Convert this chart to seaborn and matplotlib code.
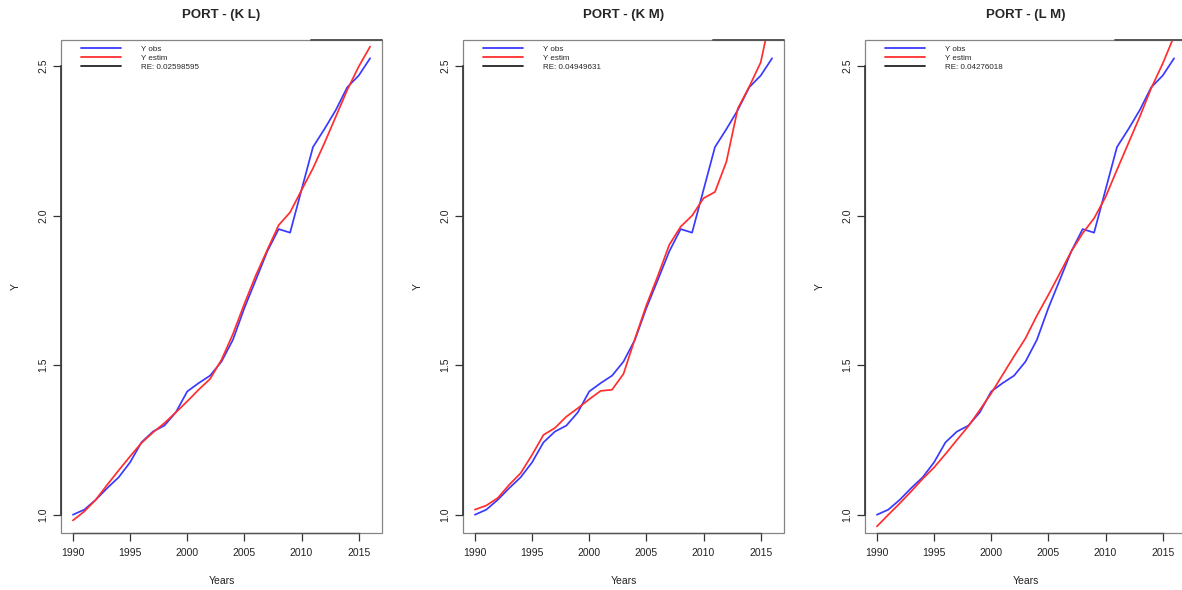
import matplotlib
matplotlib.use("Agg")
import matplotlib.pyplot as plt
import seaborn as sns
import pandas as pd
from matplotlib.lines import Line2D
from matplotlib.patches import Rectangle

# ---------------- data ----------------
years = list(range(1990, 2017))
y_obs = [1.000, 1.017, 1.050, 1.089, 1.125, 1.175, 1.242, 1.278, 1.298, 1.342,
         1.412, 1.440, 1.465, 1.512, 1.585, 1.691, 1.785, 1.880, 1.955, 1.943,
         2.086, 2.229, 2.289, 2.353, 2.429, 2.468, 2.526]
y_est_kl = [0.981, 1.011, 1.050, 1.100, 1.148, 1.195, 1.240, 1.275, 1.306, 1.342,
            1.379, 1.418, 1.454, 1.518, 1.604, 1.705, 1.800, 1.885, 1.968, 2.011,
            2.085, 2.158, 2.242, 2.331, 2.420, 2.498, 2.565]
y_est_km = [1.017, 1.031, 1.056, 1.100, 1.139, 1.200, 1.267, 1.290, 1.328, 1.356,
            1.386, 1.414, 1.418, 1.471, 1.588, 1.700, 1.798, 1.902, 1.963, 2.000,
            2.058, 2.079, 2.180, 2.358, 2.431, 2.512, 2.690]
y_est_lm = [0.961, 1.000, 1.038, 1.078, 1.120, 1.158, 1.203, 1.250, 1.296, 1.350,
            1.406, 1.468, 1.530, 1.590, 1.666, 1.735, 1.807, 1.880, 1.941, 1.991,
            2.062, 2.153, 2.242, 2.331, 2.426, 2.508, 2.600]
titles = ["PORT - (K L)", "PORT - (K M)", "PORT - (L M)"]
re_values = ["0.02598595", "0.04949631", "0.04276018"]
estimates = [y_est_kl, y_est_km, y_est_lm]
x_ticks = [1990, 1995, 2000, 2005, 2010, 2015]
y_ticks = [1.0, 1.5, 2.0, 2.5]
y_tick_labels = ["1.0", "1.5", "2.0", "2.5"]

# ---------------- style ----------------
sns.set_theme(style="white")
plt.rcParams['font.family'] = ['Liberation Sans', 'DejaVu Sans']

BLUE = "#3a3aff"
RED = "#ff2e2e"
W, H = 1182, 590
fig = plt.figure(figsize=(W / 100, H / 100), dpi=100)

lefts_px = [61, 463, 865]
box_w, box_h, box_bottom = 321, 493, 57

# R-style axis limits (4% expansion of obs range)
ylo, yhi = min(y_obs), max(y_obs)
ypad = 0.04 * (yhi - ylo)
xlo, xhi = min(years), max(years)
xpad = 0.04 * (xhi - xlo)

for i in range(3):
    ax = fig.add_axes([lefts_px[i] / W, box_bottom / H, box_w / W, box_h / H])
    df = pd.DataFrame({"Years": years, "obs": y_obs, "est": estimates[i]})
    sns.lineplot(data=df, x="Years", y="obs", color=BLUE, lw=1.25, ax=ax, legend=False)
    sns.lineplot(data=df, x="Years", y="est", color=RED, lw=1.25, ax=ax, legend=False)

    ax.set_xlim(xlo - xpad, xhi + xpad)
    ax.set_ylim(ylo - ypad, yhi + ypad)

    # box + R-style axes
    for s in ["top", "right"]:
        ax.spines[s].set_visible(False)
    ax.add_patch(Rectangle((0, 0), 1, 1, transform=ax.transAxes, fill=False,
                           ec="#858585", lw=0.9, clip_on=False, zorder=5))
    ax.axhline(yhi + ypad, xmin=0.78, xmax=1.0, color="#555555", lw=1.4,
               clip_on=False, zorder=6)
    ax.spines["left"].set_bounds(y_ticks[0], y_ticks[-1])
    ax.spines["bottom"].set_bounds(x_ticks[0], x_ticks[-1])
    ax.spines["left"].set_color("#333333")
    ax.spines["left"].set_linewidth(1.2)
    ax.spines["bottom"].set_color("#555555")
    ax.spines["bottom"].set_linewidth(1.0)
    for s in ["left", "bottom"]:
        ax.spines[s].set_zorder(7)

    ax.set_xticks(x_ticks)
    ax.set_xticklabels([str(t) for t in x_ticks])
    ax.set_yticks(y_ticks)
    ax.set_yticklabels(y_tick_labels, rotation=90, va="center")
    ax.tick_params(axis="both", direction="out", length=6, width=0.9,
                   color="#333333", labelsize=7.5, labelcolor="#222222",
                   bottom=True, left=True)
    ax.tick_params(axis="x", pad=5)
    ax.tick_params(axis="y", pad=3)

    ax.set_xlabel("Years", fontsize=7.5, color="#222222", labelpad=13)
    ax.set_ylabel("Y", fontsize=7.5, color="#222222", labelpad=13)
    ax.set_title(titles[i], fontsize=9.5, fontweight="bold", pad=15.5)

    handles = [Line2D([], [], color=BLUE, lw=1.3),
               Line2D([], [], color=RED, lw=1.3),
               Line2D([], [], color="#222222", lw=1.3)]
    labels = ["Y obs", "Y estim", "RE: " + re_values[i]]
    ax.legend(handles, labels, loc="upper left", bbox_to_anchor=(0.062, 0.99),
              frameon=False, fontsize=5.8, handlelength=5.0, handletextpad=2.4,
              labelspacing=0.2, borderpad=0, borderaxespad=0)

fig.savefig("out.png", dpi=100)
